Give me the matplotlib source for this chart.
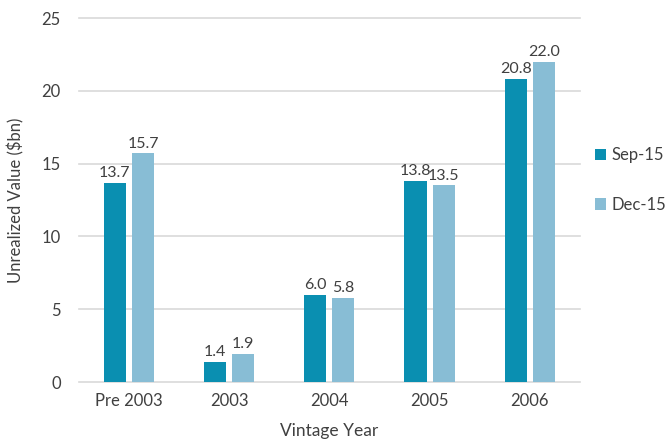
import matplotlib.pyplot as plt
import numpy as np

categories = ['Pre 2003', '2003', '2004', '2005', '2006']
sep15 = [13.7, 1.4, 6.0, 13.8, 20.8]
dec15 = [15.7, 1.9, 5.8, 13.5, 22.0]
series_names = ['Sep-15', 'Dec-15']

plt.rcParams['font.family'] = ['Lato', 'DejaVu Sans']
text_color = '#404040'
c_sep = '#0a8fb1'
c_dec = '#88bdd5'

fig = plt.figure(figsize=(6.68, 4.47), dpi=100)
ax = fig.add_axes([0.118, 0.1454, 0.75, 0.8143])

x = np.arange(len(categories))
w = 0.22
b1 = ax.bar(x - 0.14, sep15, w, color=c_sep, label=series_names[0], zorder=3)
b2 = ax.bar(x + 0.14, dec15, w, color=c_dec, label=series_names[1], zorder=3)

for bars, vals in ((b1, sep15), (b2, dec15)):
    for rect, v in zip(bars, vals):
        ax.text(rect.get_x() + rect.get_width() / 2, v + 0.2, f'{v:.1f}',
                ha='center', va='bottom', fontsize=11.5, color=text_color)

ax.set_xlim(-0.5, 4.5)
ax.set_ylim(0, 25)
ax.set_yticks(range(0, 26, 5))
ax.set_xticks(x)
ax.set_xticklabels(categories)
for gl in ax.get_ygridlines():
    gl.set_clip_on(False)
ax.yaxis.grid(True, color='#d9d9d9', linewidth=1.2, zorder=0)
for s in ax.spines.values():
    s.set_visible(False)
ax.tick_params(length=0, labelsize=12, colors=text_color, pad=8)
ax.tick_params(axis='y', pad=13)

ax.set_xlabel('Vintage Year', fontsize=12.5, color=text_color, labelpad=10)
ax.set_ylabel('Unrealized Value ($bn)', fontsize=12, color=text_color, labelpad=12)

leg = ax.legend(loc='center left', bbox_to_anchor=(1.0, 0.555), frameon=False,
                handlelength=0.7, handleheight=0.7, handletextpad=0.3,
                labelspacing=2.0, fontsize=12)
for t in leg.get_texts():
    t.set_color(text_color)

fig.savefig('out.png', dpi=100)
